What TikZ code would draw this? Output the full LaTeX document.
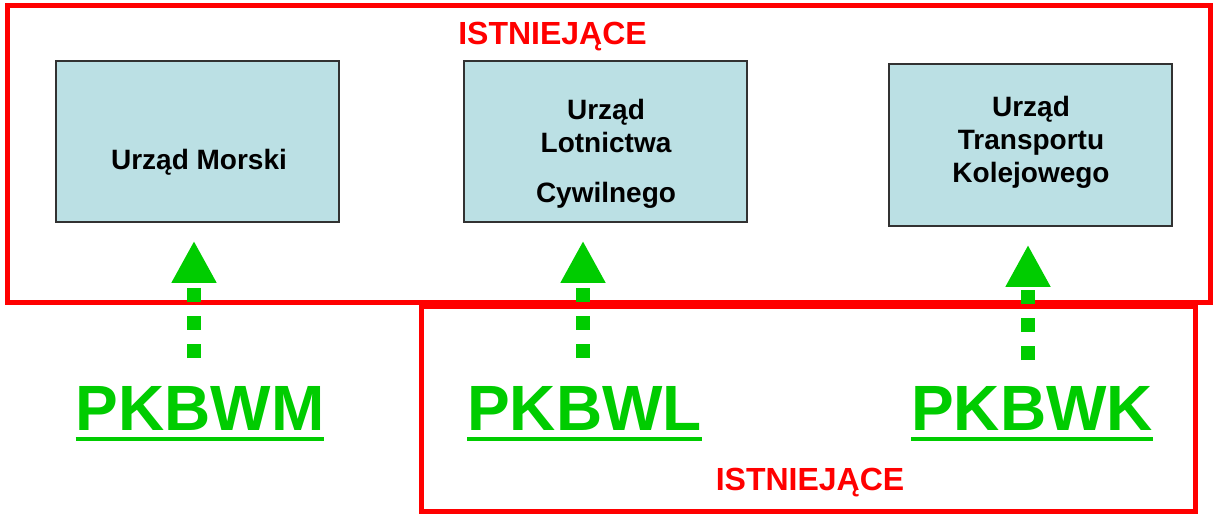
\documentclass[tikz,border=0pt]{standalone}
\usepackage{fontspec}
\setmainfont{Liberation Sans}
\usetikzlibrary{arrows.meta}
\definecolor{redline}{RGB}{255,0,0}
\definecolor{grn}{RGB}{0,204,0}
\definecolor{boxfill}{RGB}{187,224,228}
\definecolor{boxline}{RGB}{50,50,50}
\newcommand\pkul[1]{\setbox0\hbox{#1}\rlap{\vrule width \wd0 height -5.25pt depth 8.25pt}\box0}
\begin{document}
\begin{tikzpicture}[x=0.75pt,y=-0.75pt,
  frame/.style={draw=redline,line width=3.75pt},
  ubox/.style={draw=boxline,fill=boxfill,line width=1.2pt,minimum width=212.25pt,minimum height=120.75pt,inner sep=0pt},
  boxtxt/.style={font=\bfseries\fontsize{21}{24.75}\selectfont,inner sep=0pt,align=center},
  ist/.style={font=\bfseries\fontsize{24}{28}\selectfont,text=redline,inner sep=0pt},
  pk/.style={font=\bfseries\fontsize{48}{56}\selectfont,text=grn,inner sep=0pt},
  garr/.style={draw=grn,line width=10.5pt,dash pattern=on 10.5pt off 10.5pt,
    -{Triangle[width=31.5pt,length=31.5pt]},shorten >=13.5pt}]
\useasboundingbox (0,0) rectangle (1216,516);
% frames
\draw[frame] (7,6) rectangle (1210.5,303);
\draw[frame] (421.5,306.5) rectangle (1195.5,511.5);
% boxes
\node[ubox] (m) at (197.5,141.5) {};
\node[ubox] (l) at (605.5,141.5) {};
\node[ubox, minimum height=121.5pt] (k) at (1030.5,145) {};
% box texts
\node[boxtxt, anchor=base] (mt) at (199,170) {Urząd Morski};
\node[boxtxt, anchor=base] (lt1) at (606,203) {Urząd\\Lotnictwa\\[12.75pt]Cywilnego};
\node[boxtxt, anchor=base] (kt1) at (1031,183) {Urząd\\Transportu\\Kolejowego};
% labels
\node[ist, anchor=base] (i1) at (552.5,45) {ISTNIEJĄCE};
\node[ist, anchor=base] (i2) at (810,490) {ISTNIEJĄCE};
\node[pk, anchor=base] (pm) at (200,430) {\pkul{PKBWM}};
\node[pk, anchor=base] (pl) at (584.5,430) {\pkul{PKBWL}};
\node[pk, anchor=base] (pw) at (1032,430) {\pkul{PKBWK}};
% arrows
\coordinate (a1) at (194,358);
\coordinate (a2) at (583,358);
\coordinate (a3) at (1028,360);
\draw[garr] (a1) -- (a1 |- m.south);
\draw[garr] (a2) -- (a2 |- l.south);
\draw[garr] (a3) -- (a3 |- k.south);
\end{tikzpicture}
\end{document}
